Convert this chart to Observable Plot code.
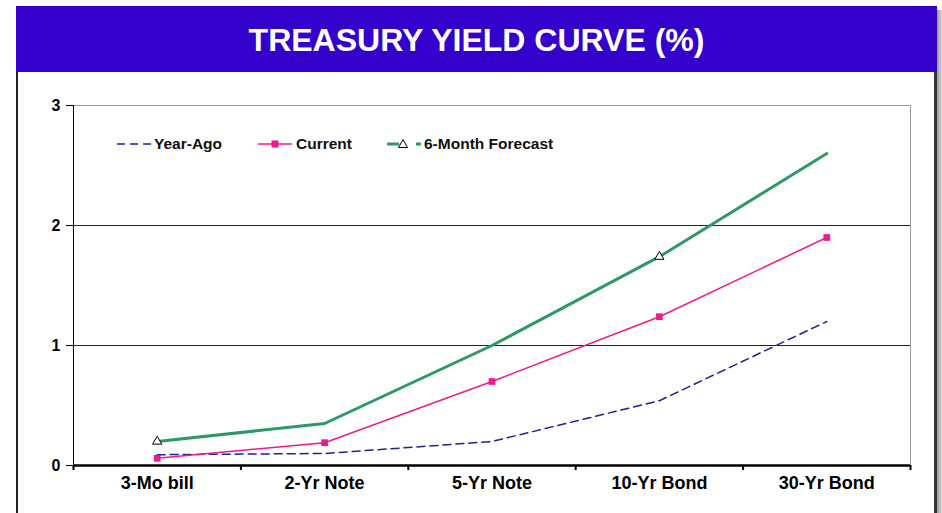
<!DOCTYPE html>
<html>
<head>
<meta charset="utf-8">
<script src="https://cdn.jsdelivr.net/npm/d3@7"></script>
<script src="https://cdn.jsdelivr.net/npm/@observablehq/plot@0.6"></script>
<style>
  html, body { margin: 0; padding: 0; background: white; overflow: hidden; }
  body { width: 942px; height: 513px; position: relative; font-family: "Liberation Sans", Arial, sans-serif; }
  #title { position: absolute; left: 16px; top: 6px; width: 921px; height: 66px; background: #3300cc;
           color: white; font-weight: bold; font-size: 32px; text-align: center; line-height: 68px; z-index: 3; }
  #shadow { position: absolute; left: 937px; top: 10px; width: 5px; height: 503px;
            background: linear-gradient(to right, #9a9a9a, #d8d8d8); z-index: 3; }
  #leftb { position: absolute; left: 16px; top: 72px; width: 2px; height: 441px; background: #222; z-index: 3; }
  #rightb { position: absolute; left: 934px; top: 72px; width: 3px; height: 441px; background: #333; z-index: 3; }
  #chart { position: absolute; left: 0; top: 72px; z-index: 1; }
  .leg { position: absolute; top: 135px; height: 18px; display: flex; align-items: center; z-index: 2;
         font-weight: bold; font-size: 15.5px; color: #111; }
  .leg svg { display: block; }
</style>
</head>
<body>
<div id="title">TREASURY YIELD CURVE (%)</div>
<div id="shadow"></div>
<div id="leftb"></div>
<div id="rightb"></div>
<div id="chart"></div>
<div class="leg" style="left:117px"><svg width="37" height="18"><line x1="0" y1="9" x2="36" y2="9" stroke="#20209a" stroke-width="1.5" stroke-dasharray="8,5"/></svg><span>Year-Ago</span></div>
<div class="leg" style="left:258px"><svg width="38" height="18"><line x1="0" y1="9" x2="34" y2="9" stroke="#ee1a8c" stroke-width="1.5"/><rect x="13.5" y="5.5" width="7" height="7" fill="#ee1a8c"/></svg><span>Current</span></div>
<div class="leg" style="left:387px"><svg width="37" height="18"><line x1="0" y1="9" x2="12" y2="9" stroke="#2e9966" stroke-width="3"/><path d="M16,4.5 L20.5,12.5 L11.5,12.5 Z" fill="white" stroke="black" stroke-width="1"/><line x1="29" y1="9" x2="34" y2="9" stroke="#2e9966" stroke-width="3"/></svg><span>6-Month Forecast</span></div>
<script>
const categories = ["3-Mo bill", "2-Yr Note", "5-Yr Note", "10-Yr Bond", "30-Yr Bond"];
const yearAgo = [0.09, 0.10, 0.20, 0.54, 1.20];
const current = [0.06, 0.19, 0.70, 1.24, 1.90];
const forecast = [0.20, 0.35, 1.00, 1.74, 2.60];
const forecastMarked = ["3-Mo bill", "10-Yr Bond"];
const yTicks = [0, 1, 2, 3];
const gridLines = [1, 2];

const rows = (vals) => vals.map((v, i) => ({x: i, cat: categories[i], y: v}));
const yaRows = rows(yearAgo);
const curRows = rows(current);
const fcRows = rows(forecast);
const centers = categories.map((d, i) => i);
const bounds = categories.map((d, i) => i - 0.5).concat([categories.length - 0.5]);
const xMin = bounds[0], xMax = bounds[bounds.length - 1];

const chart = Plot.plot({
  width: 942,
  height: 441,
  marginLeft: 73,
  marginRight: 32,
  marginTop: 33,
  marginBottom: 48,
  x: {type: "linear", domain: [xMin, xMax]},
  y: {domain: [0, 3]},
  style: {fontFamily: "'Liberation Sans', Arial, sans-serif", background: "transparent", overflow: "visible", color: "black"},
  marks: [
    Plot.ruleY(gridLines, {stroke: "#222", strokeWidth: 1}),
    Plot.ruleY([yTicks[yTicks.length - 1]], {stroke: "#999", strokeWidth: 1}),
    Plot.ruleX([xMax], {stroke: "#999", strokeWidth: 1}),
    Plot.axisY({ticks: yTicks, tickSize: 7, tickPadding: 6, fontSize: 16, fontWeight: "bold", color: "black", label: null, tickFormat: d => String(d)}),
    Plot.axisX({ticks: bounds, tickSize: 5, tickFormat: () => "", strokeWidth: 2, color: "black", label: null}),
    Plot.axisX({ticks: centers, tickSize: 0, tickPadding: 11, tickFormat: i => categories[i], fontSize: 18, fontWeight: "bold", color: "black", label: null}),
    Plot.ruleX([xMin], {stroke: "black", strokeWidth: 1}),
    Plot.line(yaRows, {x: "x", y: "y", stroke: "#20209a", strokeWidth: 1.5, strokeDasharray: "8,5"}),
    Plot.line(curRows, {x: "x", y: "y", stroke: "#ee1a8c", strokeWidth: 1.5}),
    Plot.dot(curRows, {x: "x", y: "y", symbol: "square", r: 3.8, fill: "#ee1a8c", stroke: null}),
    Plot.line(fcRows, {x: "x", y: "y", stroke: "#2e9966", strokeWidth: 3}),
    Plot.dot(fcRows.filter(d => forecastMarked.includes(d.cat)), {x: "x", y: "y", symbol: "triangle", r: 3.4, fill: "white", stroke: "black", strokeWidth: 1}),
    Plot.ruleY([0], {stroke: "black", strokeWidth: 2.5})
  ]
});
document.getElementById("chart").appendChild(chart);
</script>
</body>
</html>
